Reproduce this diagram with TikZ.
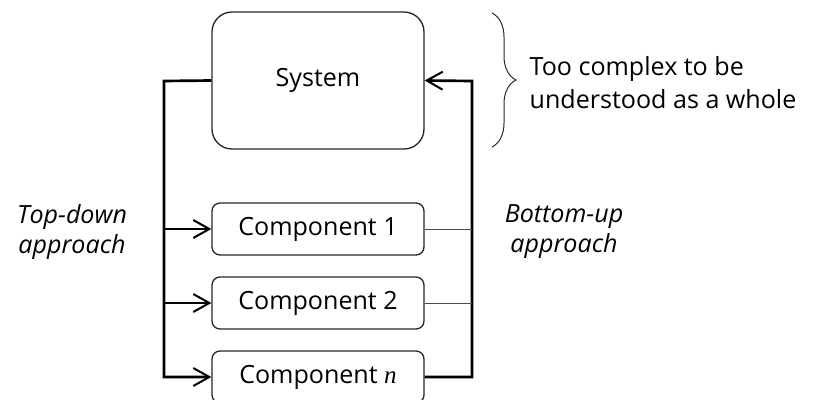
\documentclass[tikz,border=0pt]{standalone}
\usepackage{fontspec}
\setmainfont{Open Sans}
\newfontfamily\nfont{Liberation Serif}
\usetikzlibrary{arrows.meta,decorations.pathreplacing}

\tikzset{
  unitbox/.style={draw=black!85, line width=1pt, minimum width=159pt, font=\fontsize{18.8}{22}\selectfont},
  bus/.style={line width=2pt},
  feed/.style={line width=0.75pt, draw=black!70},
  chev/.style={-{Straight Barb[length=12pt, width=13.5pt, line width=1.5pt]}},
}

\begin{document}
\begin{tikzpicture}[x=0.75pt, y=-0.75pt]

\useasboundingbox (0,0) rectangle (818,400);

%position of the two vertical lines
\coordinate (lbus) at (164,81);
\coordinate (rbus) at (472,81);

% system box
\node[unitbox, rounded corners=15pt, minimum height=102.75pt] (sys) at (318,80.5) {System};

% component boxes
\node[unitbox, rounded corners=6pt, minimum height=39pt] (comp1) at (318,229) {Component 1};
\node[unitbox, rounded corners=6pt, minimum height=39pt] (comp2) at (318,303) {Component 2};
\node[unitbox, rounded corners=6pt, minimum height=39pt] (compn) at (318,377) {Component {\nfont\itshape n}};

% top-down lines
\draw[bus, chev] (sys.west) -- (lbus) |- (compn.west);
\draw[bus, chev] (comp1.west -| lbus) -- (comp1.west);
\draw[bus, chev] (comp2.west -| lbus) -- (comp2.west);

% bottom-up lines
\draw[bus, chev] (compn.east) -| (rbus) -- (sys.east);
\draw[feed] (comp1.east) -- (comp1.east -| rbus);
\draw[feed] (comp2.east) -- (comp2.east -| rbus);

% labels
\node[align=center, font=\fontsize{18.8}{22.5}\selectfont\itshape] (td) at (72,232) {Top-down\\approach};
\node[align=center, font=\fontsize{18.8}{22.5}\selectfont\itshape] (bu) at (564,232) {Bottom-up\\approach};

% brace with remark
\draw[line width=0.75pt, draw=black!85, decorate, decoration={brace, amplitude=18pt}] (492,13) -- (492,147);
\node[anchor=west, align=left, font=\fontsize{18.8}{24.75}\selectfont] (rem) at (525,83) {Too complex to be\\understood as a whole};

\end{tikzpicture}
\end{document}
